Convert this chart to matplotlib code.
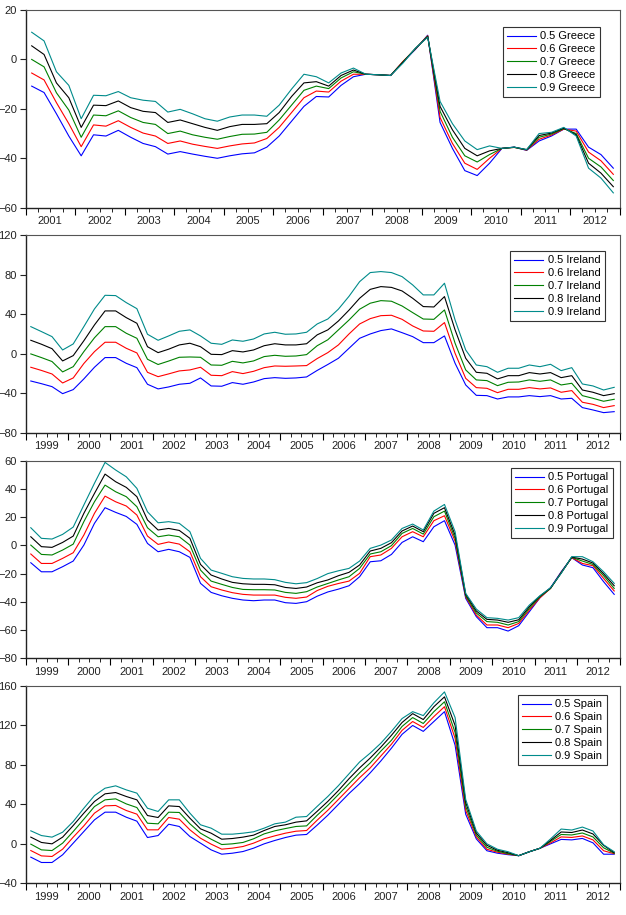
import numpy as np
import matplotlib.pyplot as plt
from matplotlib.ticker import FixedLocator, FixedFormatter

plt.rcParams['font.family'] = ['Liberation Sans', 'DejaVu Sans']
plt.rcParams['font.size'] = 8

quantiles = ["0.5", "0.6", "0.7", "0.8", "0.9"]
colors = ["#0000ff", "#ff0000", "#008000", "#000000", "#008b8b"]

greece_years = list(range(2001, 2013))
other_years = list(range(1999, 2013))

# Greece, quarterly 2001Q1-2012Q4
greece_q50 = [-10.8, -13.4, -22, -31, -39, -30.5, -31, -28.7, -31.5, -34,
              -35.3, -38.3, -37.3, -38.3, -39.2, -40, -39, -38.2, -37.8, -35.5,
              -31, -25, -19, -15, -15.2, -10.5, -7, -6, -6.2, -6.5,
              -1, 4, 9.8, -25.5, -36, -45, -47, -42, -36, -35.5,
              -36.8, -33, -31, -28.2, -28.2, -35.5, -38.5, -44]
greece_q60 = [-5.5, -8.3, -17.5, -26, -35.3, -26.5, -27, -24.8, -27.5, -29.8,
              -31, -34, -33, -34.3, -35.2, -36, -35, -34.2, -33.8, -32,
              -27.5, -21.5, -15.5, -12.8, -13.2, -8.8, -6, -6, -6.2, -6.5,
              -0.8, 4.2, 9.6, -23.5, -34, -42, -44.5, -40, -36, -35.6,
              -36.7, -32.3, -30.6, -28.2, -29, -37.5, -41, -46.5]
greece_q70 = [0, -3, -13.5, -20.5, -31.5, -22.5, -22.8, -20.8, -23.5, -25.5,
              -26.3, -30, -29, -30.5, -31.5, -32.3, -31.2, -30.3, -30.2, -29.5,
              -24.5, -18.5, -12.5, -10.8, -11.8, -7.5, -5, -6, -6.2, -6.5,
              -1, 4.3, 9.4, -21, -31.5, -39, -41.5, -38.5, -36, -35.6,
              -36.6, -31.5, -30.2, -28, -30, -40, -43.5, -49]
greece_q80 = [5.5, 2, -9.5, -15.5, -27.5, -18.5, -18.7, -16.8, -19.5, -21,
              -21.5, -25.5, -24.5, -26, -27.5, -28.7, -27.2, -26.3, -26.3, -26,
              -21.5, -15, -9.5, -9, -10.8, -6.5, -4.3, -6, -6.2, -6.5,
              -1.2, 4.4, 9.2, -19, -28.5, -36, -39, -37, -36, -35.5,
              -36.5, -30.8, -29.8, -27.8, -30.5, -42, -46, -51.5]
greece_q90 = [11, 7.5, -5, -10.5, -24, -14.5, -14.7, -13, -15.5, -16.5,
              -17, -21.3, -20.2, -22, -24, -25, -23.3, -22.5, -22.5, -23,
              -18.5, -12, -6, -7, -9.5, -5.5, -3.5, -6, -6.2, -6.5,
              -1.5, 4.5, 9, -17, -26, -33, -36.5, -35, -36, -35.5,
              -36.5, -30, -29.5, -27.5, -31, -44, -48, -54]

# Ireland, quarterly 1999Q1-2012Q4
ireland_q50 = [-27.7, -30.4, -33.4, -40.5, -36.4, -25.6, -13.8, -4, -4, -9.8,
               -14.2, -31, -35.7, -33.7, -31, -30, -24.6, -32.7, -33, -29.3,
               -31, -28.7, -25.3, -24.3, -25, -24.6, -23.6,
               -17, -11, -4.7, 5.4, 15.5, 19.9, 23.3, 25, 21.2, 17.2,
               11.1, 11.1, 17.9, -9.8, -31.7, -42.2, -42.5, -45.9, -43.8, -43.8,
               -42.5, -43.5, -42.5, -45.9, -45.2, -54.6, -57, -59.7, -58.7]
ireland_q60 = [-13.8, -17, -20.6, -29.7, -24.6, -10, 2, 11.5, 11.5, 5.4,
               0.7, -18.9, -23.3, -20.5, -17.5, -16.5, -13.8, -21.9, -22.3, -18.2,
               -20.2, -17.9, -14.2, -12.5, -12.8, -12.5, -12.1,
               -5, 1, 8.8, 19.9, 30, 35.4, 38.4, 38.8, 34.7, 28,
               22.9, 22.6, 31.4, 0.3, -25, -34.4, -35.1, -39.5, -36.1, -36.1,
               -34.4, -35.7, -34.7, -39.1, -37.4, -49.2, -51.3, -54.6, -52.6]
ireland_q70 = [-0.3, -4, -8, -18.5, -13.2, 2, 16, 27.3, 27.3, 20.6,
               15.5, -5.7, -11, -7.5, -3.7, -3.4, -3.7, -11.5, -11.8, -7.8,
               -9.4, -7.4, -3, -1.7, -2.7, -2.4, -1,
               8, 14, 24, 34, 44.9, 51, 53.6, 53, 48.2, 41.5,
               35, 34.7, 44.2, 10.5, -16.5, -26.6, -27.3, -32.4, -29, -28.7,
               -26.6, -28, -26.6, -31.7, -30, -42.5, -45.2, -48.2, -46.2]
ireland_q80 = [13.5, 9.5, 5, -7.4, -2, 13, 29, 43.2, 43.2, 36.4,
               30.7, 7, 1, 4.5, 8.8, 10.5, 7, -0.7, -1, 3,
               1.7, 3.7, 8, 10, 8.8, 8.8, 10,
               19, 24, 33, 44, 56, 65, 67.8, 67, 63.4, 56,
               47.6, 47.2, 57.7, 24, -4.7, -18.9, -19.9, -25.6, -22.3, -22.3,
               -19.2, -20.6, -19.2, -24.3, -22.3, -36.8, -39.1, -42.5, -40.5]
ireland_q90 = [27.3, 22.3, 17.2, 3.7, 9.8, 27.3, 45.2, 59, 58.7, 51.6,
               45.5, 19.6, 13.5, 17.9, 22.6, 24, 17.9, 10.5, 9.4, 13.8,
               12.5, 14.8, 19.9, 21.6, 19.6, 19.9, 21.6,
               30, 35, 45, 58, 72.8, 82, 83, 82, 77.9, 69.5,
               59.4, 59.4, 71.2, 34, 3.7, -11.5, -13.2, -18.9, -14.8, -14.8,
               -11.5, -13.2, -10.8, -17.2, -14.2, -30.7, -32.7, -36.8, -34.1]

# Portugal, quarterly 1999Q1-2012Q4
portugal_q50 = [-12.3, -18.7, -18.7, -15.1, -11.1, 0.2, 15.6, 26.7, 23.4, 20.5,
                14.9, 1.4, -4.5, -2.8, -4.5, -8.5, -26.9, -33.3, -35.7, -37.5,
                -38.7, -39.2, -38.7, -38.7, -40.6, -41.1, -39.9, -36,
                -33, -31, -28.6, -22.2, -11.6, -10.9, -6.4, 2.1, 6.1, 2.6,
                13.2, 17.5, 0.2, -37.5, -50.5, -58.3, -58.3, -60.7, -56.9, -47,
                -37.1, -30, -18.7, -8.7, -13.9, -15.8, -25.7, -34.7]
portugal_q60 = [-6.1, -12.8, -12.8, -9.2, -5.2, 7.3, 22.7, 34.9, 30.9, 27.9,
                21.5, 6.6, 0.7, 2.4, 0.9, -4.5, -22.2, -29.3, -31.6, -33.5,
                -34.7, -35.2, -35.2, -35.2, -36.8, -37.5, -36.6, -32,
                -29, -27, -25.3, -19.8, -8, -6.8, -2.1, 6.1, 9.7, 6.1,
                17.5, 21, 3, -36.4, -49.4, -56.4, -56.4, -58.3, -55.3, -45.8,
                -37.1, -30.5, -19.1, -8.7, -12.8, -14.4, -23.4, -32.3]
portugal_q70 = [0.2, -6.4, -6.8, -3.3, 0.9, 16.8, 30.9, 42.7, 38, 34.5,
                27.4, 12.5, 6.1, 7.3, 6.1, 0.2, -17.5, -25.3, -27.6, -29.8,
                -31.2, -31.4, -31.4, -31.6, -33.3, -34, -32.8, -29.5,
                -27, -24.5, -22.2, -16.3, -6.1, -4.5, -0.2, 8.5, 12, 8,
                20.3, 24.3, 5, -35.7, -47.9, -54, -54.5, -56.4, -54, -44.6,
                -36.4, -30.5, -19.4, -8.5, -11.1, -13.5, -21.5, -30.5]
portugal_q80 = [6.1, -0.9, -1.4, 2.1, 6.6, 22.7, 36.8, 50.5, 45.1, 41.1,
                34.5, 18, 10.9, 12, 10.6, 5, -13.5, -21, -23.8, -26.2,
                -27.2, -27.6, -27.6, -27.9, -29.8, -30.5, -29.5, -26.5,
                -24.5, -21.5, -19.1, -13.9, -4, -2.1, 1.9, 10.2, 13.7, 9.7,
                22.7, 26.7, 7.3, -34.7, -46.5, -52.4, -52.9, -54.5, -52.7, -43.4,
                -35.9, -30.2, -19.6, -8.3, -9.7, -12.5, -20.1, -28.6]
portugal_q90 = [12.5, 5, 4.5, 7.8, 13, 28.6, 44, 58.8, 53.4, 48.6,
                40.4, 23.8, 16, 16.8, 15.6, 9.7, -9.2, -17.5, -19.8, -22.2,
                -23.4, -23.8, -23.8, -24.3, -26.2, -27.2, -26.4, -23.5,
                -20, -18, -16.3, -11.1, -2.1, 0.2, 3.8, 12, 15.1, 10.9,
                24.3, 29, 9.7, -34, -45.1, -51.2, -51.7, -52.9, -51.2, -42.3,
                -35.7, -30, -19.8, -8, -8, -11.6, -18.7, -26.9]

# Spain, quarterly 1999Q1-2012Q4
spain_q50 = [-13.5, -18.9, -18.9, -11.1, 0.7, 12.5, 24.3, 32.1, 32.1, 27,
             23, 6.4, 8.4, 19.9, 17.6, 7.4, 0.7, -6.1, -10.5, -9.5,
             -7.8, -4.4, 0, 3.4, 6.4, 8.8, 9.5,
             19, 29, 40, 51, 61, 72, 84, 97, 111, 120,
             114, 124, 134, 100, 30, 5, -7, -9.5, -11, -12,
             -8, -4.5, 0, 4.5, 4, 5.5, 1, -10.5, -10.5]
spain_q60 = [-6.8, -12.2, -12.8, -5.4, 6.8, 18.2, 31.1, 38.5, 38.9, 33.8,
             30.1, 14.2, 14.2, 26.7, 25, 14.2, 5.7, -0.3, -5.4, -4.4,
             -2.7, 0.7, 5.1, 8.1, 10.8, 12.8, 13.5,
             24, 34, 45, 56, 67, 77, 89, 101, 115, 124,
             118, 129, 139, 107, 34, 7, -5.5, -8.5, -10.5, -12,
             -8, -4.5, 1, 7, 6.5, 8, 4, -7, -10]
spain_q70 = [-0.3, -6.1, -6.8, 0.7, 12.5, 25, 37.8, 44.6, 45.6, 40.5,
             36.8, 20.9, 20.3, 32.1, 31.8, 20.3, 10.8, 4.7, -0.7, 0,
             1.4, 5.1, 10.1, 13.2, 15.5, 17.6, 18.2,
             29, 39, 50, 61, 72, 82, 94, 105, 119, 128,
             122, 134, 144, 113, 38, 9, -3.5, -7.5, -10, -12,
             -8, -4.5, 2.5, 9.5, 9, 11, 7, -4, -9.5]
spain_q80 = [6.8, 1.4, 0, 6.8, 18.6, 31.1, 42.9, 50.7, 52, 48,
             44.6, 28.7, 26.7, 38.5, 37.8, 26, 15.2, 10.8, 4.7, 5.4,
             6.8, 8.8, 13.5, 17.6, 19.3, 22, 23.3,
             33, 43, 54, 66, 77, 87, 98, 110, 123, 132,
             126, 139, 149, 120, 42, 11, -1.5, -6.5, -9, -12,
             -8, -4.5, 3.5, 12, 11.5, 14, 10, -1.5, -9]
spain_q90 = [13.2, 8.4, 6.8, 11.8, 22.6, 36.1, 48.9, 56.4, 58.8, 54.7,
             51.4, 36.1, 32.8, 44.6, 44.6, 31.1, 19.3, 15.9, 9.8, 9.8,
             10.8, 12.2, 15.9, 20.3, 22, 27, 27.7,
             38, 48, 59, 71, 83, 92, 102, 114, 127, 134,
             130, 143, 154, 128, 45, 13, 0, -5.5, -8, -12,
             -8, -4.5, 5, 15, 14, 17, 13, -1, -8]

W, H = 626, 915
fig = plt.figure(figsize=(W / 100, H / 100), dpi=100)

left_px, right_px = 25.5, 619.5

# name, years, series, y limits, y ticks, top px, bottom px, legend (right px, top px)
panels = [
    ("Greece", greece_years, [greece_q50, greece_q60, greece_q70, greece_q80, greece_q90],
     (-60, 20), [-60, -40, -20, 0, 20], 10, 207.7, (600, 27)),
    ("Ireland", other_years, [ireland_q50, ireland_q60, ireland_q70, ireland_q80, ireland_q90],
     (-80, 120), [-80, -40, 0, 40, 80, 120], 235, 432.7, (605, 251)),
    ("Portugal", other_years, [portugal_q50, portugal_q60, portugal_q70, portugal_q80, portugal_q90],
     (-80, 60), [-80, -60, -40, -20, 0, 20, 40, 60], 460.7, 658.3, (613, 468)),
    ("Spain", other_years, [spain_q50, spain_q60, spain_q70, spain_q80, spain_q90],
     (-40, 160), [-40, 0, 40, 80, 120, 160], 686, 883.3, (607, 695)),
]

for name, years, series, ylim, yticks, top, bottom, leg in panels:
    ax = fig.add_axes([left_px / W, 1 - bottom / H, (right_px - left_px) / W, (bottom - top) / H])
    n = len(series[0])
    x = np.arange(n)
    for q, c, y in zip(quantiles, colors, series):
        ax.plot(x, y, color=c, lw=0.8, label=f"{q} {name}")

    ax.set_xlim(-0.5, n - 0.5)
    ax.set_ylim(*ylim)
    ax.set_yticks(yticks)

    # year boundaries as major ticks, quarters as minor, year labels mid-year
    ax.set_xticks(np.arange(0, n + 1, 4) - 0.5)
    ax.set_xticklabels([])
    minor_pos = [k - 0.5 for k in range(n + 1) if k % 4 != 0]
    minor_lab = []
    for p in minor_pos:
        k = p + 0.5
        if k % 4 == 2:
            minor_lab.append(str(years[int(k // 4)]))
        else:
            minor_lab.append("")
    ax.xaxis.set_minor_locator(FixedLocator(minor_pos))
    ax.xaxis.set_minor_formatter(FixedFormatter(minor_lab))

    ax.tick_params(axis='x', which='major', length=5, width=0.8, direction='out')
    ax.tick_params(axis='x', which='minor', length=3, width=0.7, direction='out',
                   pad=3, labelsize=8, colors='#222222')
    ax.tick_params(axis='y', length=4, width=0.8, direction='out', pad=2,
                   labelsize=8, colors='#222222')

    for s in ['left', 'bottom']:
        ax.spines[s].set_linewidth(1.0)
        ax.spines[s].set_color('#222222')
    for s in ['top', 'right']:
        ax.spines[s].set_linewidth(0.8)
        ax.spines[s].set_color('#555555')

    ax_w = right_px - left_px
    ax_h = bottom - top
    lg = ax.legend(loc='upper right',
                   bbox_to_anchor=((leg[0] - left_px) / ax_w, (bottom - leg[1]) / ax_h),
                   borderaxespad=0, fancybox=False, framealpha=1, edgecolor='#333333',
                   fontsize=8, handlelength=2.6, handletextpad=0.4, labelspacing=0.25,
                   borderpad=0.4)
    lg.get_frame().set_linewidth(0.8)

fig.savefig("out.png", dpi=100)
